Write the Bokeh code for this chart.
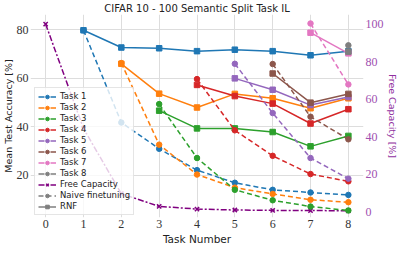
from bokeh.plotting import figure
from bokeh.models import Range1d, LinearAxis, Legend, LegendItem, ColumnDataSource, FixedTicker, Title
from bokeh.embed import file_html
from bokeh.resources import INLINE

# ---- data ----
task_labels = ["Task 1", "Task 2", "Task 3", "Task 4", "Task 5", "Task 6", "Task 7", "Task 8"]
task_colors = ["#1f77b4", "#ff7f0e", "#2ca02c", "#d62728", "#9467bd", "#8c564b", "#e377c2", "#7f7f7f"]
task_numbers = [0, 1, 2, 3, 4, 5, 6, 7, 8]

rnf_task1 = [79.8, 72.7, 72.4, 71.2, 71.8, 71.2, 69.5, 71.2]
rnf_task2 = [66.0, 53.7, 48.0, 53.6, 51.8, 47.7, 51.8]
rnf_task3 = [46.7, 39.4, 39.4, 37.9, 32.0, 36.3]
rnf_task4 = [57.3, 52.7, 49.6, 41.4, 47.3]
rnf_task5 = [60.0, 55.3, 49.0, 52.3]
rnf_task6 = [62.0, 50.0, 53.6]
rnf_task7 = [78.8, 70.3]
rnf_task8 = [71.0]

naive_task1 = [79.8, 41.8, 31.0, 22.2, 17.0, 14.1, 13.0, 12.0]
naive_task2 = [66.3, 32.7, 20.4, 15.0, 12.4, 10.0, 9.0]
naive_task3 = [49.4, 27.2, 14.1, 9.8, 7.2, 5.6]
naive_task4 = [59.7, 38.6, 28.1, 20.6, 17.6]
naive_task5 = [66.0, 45.7, 27.2, 18.7]
naive_task6 = [65.9, 44.2, 34.9]
naive_task7 = [82.6, 57.5]
naive_task8 = [73.6]

free_capacity = [100.0, 44.4, 9.7, 2.9, 1.5, 1.0, 0.8, 0.7, 0.6]

rnf = [rnf_task1, rnf_task2, rnf_task3, rnf_task4, rnf_task5, rnf_task6, rnf_task7, rnf_task8]
naive = [naive_task1, naive_task2, naive_task3, naive_task4, naive_task5, naive_task6, naive_task7, naive_task8]

SANS = "DejaVu Sans"
SERIF = "Liberation Serif"
PURPLE = "#800080"
DASH = "5 3"
DASHDOT = "6 2 2 2"
NAN = float("nan")

p = figure(width=399, height=244, output_backend="svg", toolbar_location=None,
           x_range=Range1d(-0.4, 8.4), y_range=Range1d(2.7, 86.3),
           title="CIFAR 10 - 100 Semantic Split Task IL",
           min_border_left=0, min_border_right=0, min_border_top=0, min_border_bottom=0)
p.extra_y_ranges = {"cap": Range1d(-3.0, 105.1)}

p.title.text_font = SANS
p.title.text_font_size = "10px"
p.title.text_font_style = "normal"
p.title.align = "center"
p.title.text_color = "#222222"
p.title.standoff = 1

p.outline_line_color = None
p.background_fill_color = "white"
p.border_fill_color = "white"

for ax in [p.xaxis[0], p.yaxis[0]]:
    ax.axis_line_color = None
    ax.major_tick_line_color = None
    ax.minor_tick_line_color = None
    ax.major_tick_out = 0
    ax.major_tick_in = 0
    ax.major_label_text_font = SERIF
    ax.major_label_text_font_size = "12px"
    ax.major_label_text_color = "#333333"
    ax.major_label_standoff = 2

p.xaxis.ticker = FixedTicker(ticks=task_numbers)
p.yaxis.ticker = FixedTicker(ticks=[20, 40, 60, 80])

rax = LinearAxis(y_range_name="cap", ticker=FixedTicker(ticks=[0, 20, 40, 60, 80, 100]))
rax.axis_line_color = None
rax.major_tick_line_color = None
rax.minor_tick_line_color = None
rax.major_tick_out = 0
rax.major_tick_in = 0
rax.major_label_text_font = SERIF
rax.major_label_text_font_size = "12px"
rax.major_label_text_color = "#a050b0"
rax.major_label_standoff = 2
p.add_layout(rax, "right")

# axis titles
def axis_title(text, size, color):
    return Title(text=text, align="center", text_font=SANS, text_font_size=size,
                 text_font_style="normal", text_color=color, standoff=0)

p.add_layout(axis_title("Task Number", "10.5px", "#222222"), "below")
p.add_layout(axis_title("Mean Test Accuracy [%]", "9.5px", "#222222"), "left")
p.add_layout(axis_title("Free Capacity [%]", "9.5px", "#9030a0"), "right")

p.xgrid.grid_line_color = "#dddddd"
p.ygrid.grid_line_color = "#dddddd"
p.xgrid.grid_line_width = 1
p.ygrid.grid_line_width = 1

# free capacity
fc_src = ColumnDataSource(dict(x=task_numbers, y=free_capacity))
fc_line = p.line("x", "y", source=fc_src, y_range_name="cap", color=PURPLE, line_width=1.5, line_dash=DASHDOT)
fc_pts = p.scatter("x", "y", source=fc_src, y_range_name="cap", marker="x", size=6, line_color=PURPLE, line_width=1.5)

for i in range(8):
    c = task_colors[i]
    xs = task_numbers[i + 1:]
    ns = ColumnDataSource(dict(x=xs, y=naive[i]))
    rs = ColumnDataSource(dict(x=xs, y=rnf[i]))
    p.line("x", "y", source=ns, color=c, line_width=1.5, line_dash=DASH)
    p.scatter("x", "y", source=ns, marker="circle", size=5.5, color=c)
    p.line("x", "y", source=rs, color=c, line_width=1.5)
    p.scatter("x", "y", source=rs, marker="square", size=5.5, color=c)

# legend proxies (no visible data)
items = []
proxy = dict(x=[NAN], y=[NAN])
for i in range(8):
    c = task_colors[i]
    src = ColumnDataSource(proxy)
    l = p.line("x", "y", source=src, color=c, line_width=1.5, line_dash=DASHDOT)
    m = p.scatter("x", "y", source=src, marker="circle", size=5.5, color=c)
    items.append(LegendItem(label=task_labels[i], renderers=[l, m]))
items.append(LegendItem(label="Free Capacity", renderers=[fc_line, fc_pts]))
src = ColumnDataSource(proxy)
nl = p.line("x", "y", source=src, color="#7f7f7f", line_width=1.5, line_dash=DASH)
nm = p.scatter("x", "y", source=src, marker="circle", size=5.5, color="#7f7f7f")
items.append(LegendItem(label="Naive finetuning", renderers=[nl, nm]))
src = ColumnDataSource(proxy)
rl = p.line("x", "y", source=src, color="#7f7f7f", line_width=1.5)
rm = p.scatter("x", "y", source=src, marker="square", size=5.5, color="#7f7f7f")
items.append(LegendItem(label="RNF", renderers=[rl, rm]))

legend = Legend(items=items, location=(4, 2))
legend.label_text_font = SANS
legend.label_text_font_size = "8.5px"
legend.label_text_color = "#222222"
legend.glyph_height = 9
legend.glyph_width = 18
legend.label_height = 9
legend.label_standoff = 4
legend.spacing = 1
legend.padding = 3
legend.margin = 0
legend.border_line_color = "#cccccc"
legend.background_fill_alpha = 0.8
p.add_layout(legend, "center")

open("out.html", "w").write(file_html(p, INLINE))
